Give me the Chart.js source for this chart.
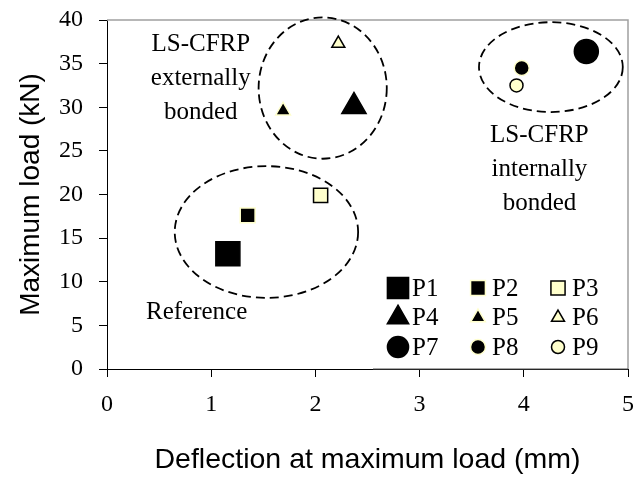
<!DOCTYPE html>
<html>
<head>
<meta charset="utf-8">
<title>Maximum load vs deflection</title>
<script src="https://cdn.jsdelivr.net/npm/chart.js@4.4.0/dist/chart.umd.min.js"></script>
<style>
  html, body { margin: 0; padding: 0; background: #fff; }
  #wrap { width: 636px; height: 481px; }
</style>
</head>
<body>
<div id="wrap"><canvas id="chart"></canvas></div>
<script>
// Specimens and their test results
const specimens  = ['P1', 'P2', 'P3', 'P4', 'P5', 'P6', 'P7', 'P8', 'P9'];
const deflection = [1.16, 1.35, 2.05, 2.37, 1.69, 2.22, 4.60, 3.98, 3.93]; // mm
const maxLoad    = [13.2, 17.6, 19.9, 30.1, 29.6, 37.3, 36.4, 34.5, 32.5]; // kN

// Axis ticks
const xTicks = [0, 1, 2, 3, 4, 5];
const yTicks = [0, 5, 10, 15, 20, 25, 30, 35, 40];

// Marker look for each specimen
const CREAM = '#ffffcc';
const shapes = ['rect', 'rect', 'rect', 'triangle', 'triangle', 'triangle', 'circle', 'circle', 'circle'];
const fills  = ['#000', '#000', CREAM, '#000', '#000', CREAM, '#000', '#000', CREAM];
const edges  = ['#000', CREAM, '#000', '#000', CREAM, '#000', '#000', CREAM, '#000'];
const radii  = [17, 10.5, 10, 14, 8.5, 7.5, 12, 7.5, 6.5];

// Dashed groupings (centre and half-axes in data units)
const groupCx = [1.53, 2.07, 4.26];
const groupCy = [15.7, 32.2, 34.6];
const groupRx = [0.88, 0.615, 0.69];
const groupRy = [7.55, 8.1, 5.15];

// Group captions: lines, anchor (data units) of middle line
const captions = [
  { lines: ['LS-CFRP', 'externally', 'bonded'], x: 0.90, y: 33.3 },
  { lines: ['LS-CFRP', 'internally', 'bonded'], x: 4.15, y: 22.9 },
  { lines: ['Reference'], x: 0.86, y: 6.45 }
];

const SERIF = '"Liberation Serif", "Times New Roman", serif';
const SANS = '"Liberation Sans", Arial, sans-serif';

const datasets = specimens.map((name, i) => ({
  label: name,
  data: [{ x: deflection[i], y: maxLoad[i] }],
  pointStyle: shapes[i],
  pointRadius: radii[i],
  pointHoverRadius: radii[i],
  backgroundColor: fills[i],
  borderColor: edges[i],
  borderWidth: 1.5,
  clip: false
}));

// draws one marker, using the library helper when present
function marker(ctx, style, r, x, y, fill, edge) {
  ctx.save();
  ctx.fillStyle = fill;
  ctx.strokeStyle = edge;
  ctx.lineWidth = 1.5;
  if (Chart.helpers && Chart.helpers.drawPoint) {
    Chart.helpers.drawPoint(ctx, { pointStyle: style, radius: r, borderWidth: 1.5, rotation: 0 }, x, y);
  } else {
    ctx.beginPath();
    if (style === 'rect') {
      const s = r * Math.SQRT1_2;
      ctx.rect(x - s, y - s, 2 * s, 2 * s);
    } else if (style === 'triangle') {
      ctx.moveTo(x, y - r);
      ctx.lineTo(x + r * 0.866, y + r / 2);
      ctx.lineTo(x - r * 0.866, y + r / 2);
      ctx.closePath();
    } else {
      ctx.arc(x, y, r, 0, Math.PI * 2);
    }
    ctx.fill();
    ctx.stroke();
  }
  ctx.restore();
}

// gray top/right frame, plus the key box edge sitting on the x axis
const framePlugin = {
  id: 'frame',
  beforeDatasetsDraw(chart) {
    const { ctx, chartArea: a } = chart;
    ctx.save();
    ctx.strokeStyle = '#a0a0a0';
    ctx.lineWidth = 1.5;
    ctx.beginPath();
    ctx.moveTo(a.left, a.top);
    ctx.lineTo(a.right, a.top);
    ctx.lineTo(a.right, a.bottom);
    ctx.stroke();
    ctx.strokeStyle = '#505050';
    ctx.lineWidth = 1;
    ctx.beginPath();
    ctx.moveTo(a.right - 255, a.bottom);
    ctx.lineTo(a.right, a.bottom);
    ctx.stroke();
    ctx.restore();
  }
};

const groupsPlugin = {
  id: 'groups',
  beforeDatasetsDraw(chart) {
    const { ctx, scales: { x, y } } = chart;
    ctx.save();
    ctx.strokeStyle = '#000';
    ctx.lineWidth = 1.8;
    ctx.setLineDash([9, 5]);
    groupCx.forEach((cx, i) => {
      const px = x.getPixelForValue(cx);
      const py = y.getPixelForValue(groupCy[i]);
      const rx = x.getPixelForValue(cx + groupRx[i]) - px;
      const ry = py - y.getPixelForValue(groupCy[i] + groupRy[i]);
      ctx.beginPath();
      ctx.ellipse(px, py, rx, ry, 0, 0, Math.PI * 2);
      ctx.stroke();
    });
    ctx.setLineDash([]);
    ctx.fillStyle = '#000';
    ctx.font = '25px ' + SERIF;
    ctx.textAlign = 'center';
    ctx.textBaseline = 'middle';
    captions.forEach(c => {
      const px = x.getPixelForValue(c.x);
      const py = y.getPixelForValue(c.y);
      const mid = (c.lines.length - 1) / 2;
      c.lines.forEach((t, k) => ctx.fillText(t, px, py + (k - mid) * 34));
    });
    ctx.restore();
  }
};

const keyPlugin = {
  id: 'key',
  afterDatasetsDraw(chart) {
    const { ctx, chartArea: a } = chart;
    const colW = 80, rowH = 29.5;
    const x0 = a.right - 230, y0 = a.bottom - 22 - 2 * rowH;
    ctx.save();
    ctx.font = '25px ' + SERIF;
    ctx.fillStyle = '#000';
    ctx.textAlign = 'left';
    ctx.textBaseline = 'middle';
    specimens.forEach((name, i) => {
      const col = i % 3, row = Math.floor(i / 3);
      const mx = x0 + col * colW, my = y0 + row * rowH;
      const r = radii[i] > 11 ? radii[i] * 0.88 : radii[i];
      marker(ctx, shapes[i], r, mx, my, fills[i], edges[i]);
      ctx.fillStyle = '#000';
      ctx.fillText(name, mx + 14, my + 1);
    });
    ctx.restore();
  }
};

new Chart(document.getElementById('chart'), {
  type: 'scatter',
  data: { datasets },
  options: {
    responsive: true,
    maintainAspectRatio: false,
    animation: false,
    layout: { autoPadding: false, padding: { top: 20, right: 8, bottom: 0, left: 0 } },
    plugins: {
      legend: { display: false },
      tooltip: { enabled: false }
    },
    scales: {
      x: {
        type: 'linear',
        min: xTicks[0],
        max: xTicks[xTicks.length - 1],
        afterBuildTicks: s => { s.ticks = xTicks.map(v => ({ value: v })); },
        afterFit: s => { s.height = 112; s.paddingLeft = 0; s.paddingRight = 0; },
        grid: { display: true, drawOnChartArea: false, drawTicks: true, tickLength: 8, color: '#000' },
        border: { display: true, color: '#000', width: 1 },
        ticks: { color: '#000', padding: 16, font: { family: SERIF, size: 24, lineHeight: 1 } },
        title: {
          display: true,
          text: 'Deflection at maximum load (mm)',
          color: '#000',
          padding: { top: 0, bottom: 7 },
          font: { family: SANS, size: 28.5, lineHeight: 1 }
        }
      },
      y: {
        type: 'linear',
        min: yTicks[0],
        max: yTicks[yTicks.length - 1],
        afterBuildTicks: s => { s.ticks = yTicks.map(v => ({ value: v })); },
        afterFit: s => { s.width = 107; s.paddingTop = 0; s.paddingBottom = 0; },
        grid: { display: true, drawOnChartArea: false, drawTicks: true, tickLength: 8, color: '#000' },
        border: { display: true, color: '#000', width: 1 },
        ticks: { color: '#000', padding: 16, font: { family: SERIF, size: 24, lineHeight: 1 } },
        title: {
          display: true,
          text: 'Maximum load (kN)',
          color: '#000',
          padding: { top: 17, bottom: 0 },
          font: { family: SANS, size: 28, lineHeight: 1 }
        }
      }
    }
  },
  plugins: [framePlugin, groupsPlugin, keyPlugin]
});
</script>
</body>
</html>
